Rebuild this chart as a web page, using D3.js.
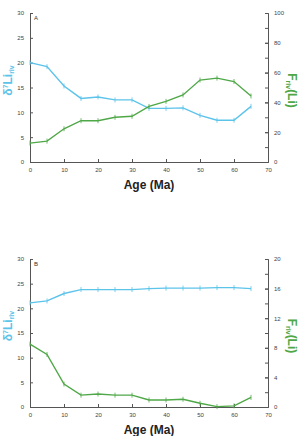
<!DOCTYPE html>
<html>
<head>
<meta charset="utf-8">
<script src="https://cdn.jsdelivr.net/npm/d3@7"></script>
<style>
  body { margin: 0; background: #fff; }
  svg { font-family: "Liberation Sans", Arial, sans-serif; }
  .tick text { font-size: 6px; fill: #444; }
</style>
</head>
<body>
<svg width="305" height="436"></svg>
<script>
const ages = [0, 5, 10, 15, 20, 25, 30, 35, 40, 45, 50, 55, 60, 65];

// panel A
const deltaA = [20, 19.2, 15.3, 12.8, 13.1, 12.5, 12.5, 10.8, 10.8, 10.9, 9.4, 8.4, 8.4, 11.2];
const fluxA = [12.7, 14, 22.3, 27.7, 27.7, 30, 30.7, 37.3, 40.7, 45, 55, 56.3, 54, 44.3];

// panel B
const deltaB = [21.1, 21.5, 23.0, 23.8, 23.8, 23.8, 23.8, 24.0, 24.1, 24.1, 24.1, 24.2, 24.2, 24.0];
const fluxB = [8.5, 7.1, 3.1, 1.6, 1.75, 1.6, 1.6, 0.95, 0.95, 1.05, 0.5, 0.05, 0.15, 1.3];

const leftTicks = [0, 5, 10, 15, 20, 25, 30];
const xTicks = [0, 10, 20, 30, 40, 50, 60, 70];

const blue = "#5cc3ea";
const green = "#4fa847";
const axisCol = "#555";

const svg = d3.select("svg");

const x0 = 30, x1 = 268;
const xScale = d3.scaleLinear().domain([0, 70]).range([x0, x1]);

function panel(cfg) {
  const y = d3.scaleLinear().domain([0, 30]).range([cfg.bottom, cfg.top]);
  const yr = d3.scaleLinear().domain([0, cfg.rMax]).range([cfg.bottom, cfg.top]);
  const g = svg.append("g");

  // x axis
  const xa = g.append("g")
    .attr("transform", `translate(0,${cfg.bottom})`)
    .call(d3.axisBottom(xScale).tickValues(xTicks).tickSizeInner(-3).tickSizeOuter(0).tickPadding(6));
  // left axis
  const la = g.append("g")
    .attr("transform", `translate(${x0},0)`)
    .call(d3.axisLeft(y).tickValues(leftTicks).tickSizeInner(-3).tickSizeOuter(0).tickPadding(6));
  // right axis minor + major
  g.append("g")
    .attr("transform", `translate(${x1},0)`)
    .call(d3.axisRight(yr).tickValues(d3.range(0, cfg.rMax + 0.001, cfg.rMinor)).tickSize(-3).tickFormat(""));
  const ra = g.append("g")
    .attr("transform", `translate(${x1},0)`)
    .call(d3.axisRight(yr).tickValues(d3.range(0, cfg.rMax + 0.001, cfg.rMajor)).tickSizeInner(-3).tickSizeOuter(0).tickPadding(6));
  g.selectAll(".domain, .tick line").attr("stroke", axisCol).attr("stroke-width", 1);

  g.append("text")
    .attr("x", x0 + 4).attr("y", cfg.top + 7)
    .attr("font-size", 6).attr("fill", "#333")
    .text(cfg.tag);

  const line = (ys) => d3.line().x((d, i) => xScale(ages[i])).y(d => ys(d));

  [[cfg.delta, y, blue], [cfg.flux, yr, green]].forEach(([vals, ys, col]) => {
    g.append("path")
      .datum(vals)
      .attr("fill", "none")
      .attr("stroke", col)
      .attr("stroke-width", 1.4)
      .attr("d", line(ys));
    g.selectAll(null)
      .data(vals)
      .enter()
      .append("line")
      .attr("x1", (d, i) => xScale(ages[i]))
      .attr("x2", (d, i) => xScale(ages[i]))
      .attr("y1", d => ys(d) - 2.5)
      .attr("y2", d => ys(d) + 2.5)
      .attr("stroke", col)
      .attr("stroke-width", 0.8);
  });

  // axis titles
  g.append("text")
    .attr("x", (x0 + x1) / 2).attr("y", cfg.bottom + 27)
    .attr("text-anchor", "middle")
    .attr("font-size", 12).attr("font-weight", "bold").attr("fill", "#222")
    .text("Age (Ma)");

  const lc = (cfg.top + cfg.bottom) / 2 - 7;
  const lt = g.append("text")
    .attr("transform", `translate(12,${lc}) rotate(-90)`)
    .attr("text-anchor", "middle")
    .attr("font-size", 12).attr("font-weight", "bold").attr("fill", blue);
  lt.append("tspan").text("δ");
  lt.append("tspan").attr("font-size", 7).attr("dy", -4).text("7");
  lt.append("tspan").attr("dy", 4).text("Li");
  lt.append("tspan").attr("font-size", 7).attr("dy", 2).text("riv");

  const rc = (cfg.top + cfg.bottom) / 2 + 3;
  const rt = g.append("text")
    .attr("transform", `translate(288,${rc}) rotate(90)`)
    .attr("text-anchor", "middle")
    .attr("font-size", 12).attr("font-weight", "bold").attr("fill", green);
  rt.append("tspan").text("F");
  rt.append("tspan").attr("font-size", 7).attr("dy", 2).text("riv");
  rt.append("tspan").attr("dy", -2).text("(Li)");
}

panel({ top: 13, bottom: 162, rMax: 100, rMajor: 20, rMinor: 10, tag: "A", delta: deltaA, flux: fluxA });
panel({ top: 259, bottom: 407, rMax: 20, rMajor: 4, rMinor: 2, tag: "B", delta: deltaB, flux: fluxB });
</script>
</body>
</html>
